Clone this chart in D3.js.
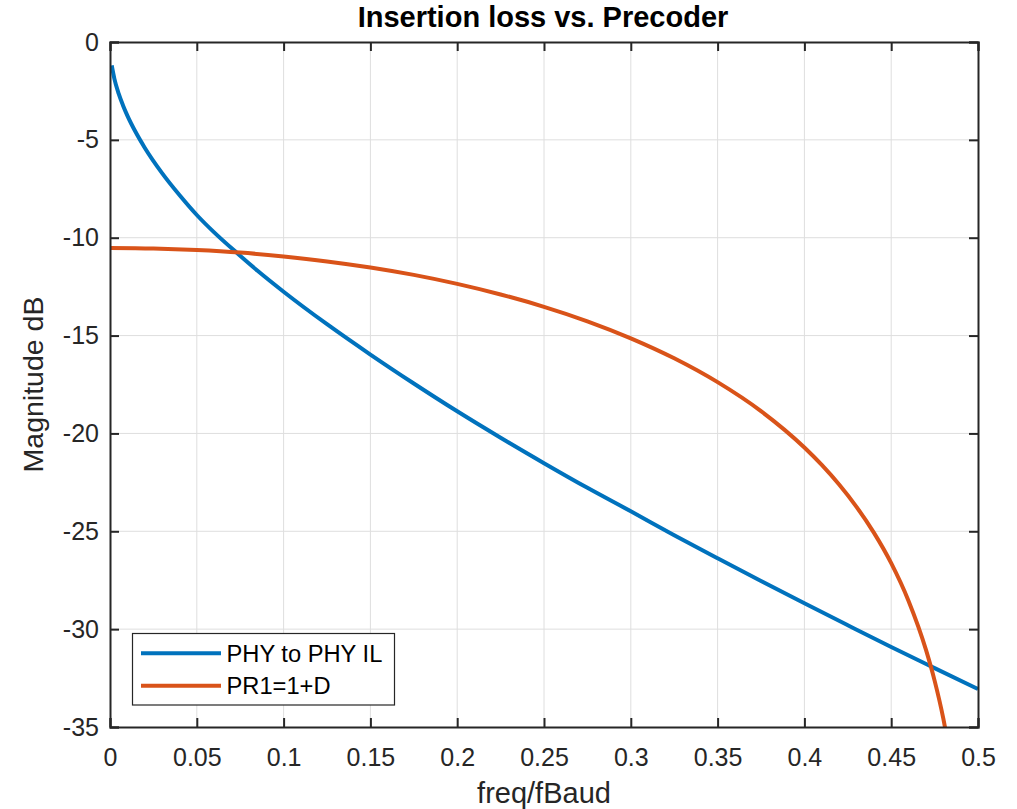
<!DOCTYPE html>
<html>
<head>
<meta charset="utf-8">
<script src="https://cdn.jsdelivr.net/npm/d3@7"></script>
<style>
  html, body { margin: 0; padding: 0; background: #fff; }
  svg { display: block; font-family: "Liberation Sans", Arial, Helvetica, sans-serif; }
</style>
</head>
<body>
<svg id="chart" width="1017" height="809"></svg>
<script>
// ---- data ----
const xTicks = [0, 0.05, 0.1, 0.15, 0.2, 0.25, 0.3, 0.35, 0.4, 0.45, 0.5];
const xTickLabels = ["0", "0.05", "0.1", "0.15", "0.2", "0.25", "0.3", "0.35", "0.4", "0.45", "0.5"];
const yTicks = [0, -5, -10, -15, -20, -25, -30, -35];
const yTickLabels = ["0", "-5", "-10", "-15", "-20", "-25", "-30", "-35"];

const seriesNames = ["PHY to PHY IL", "PR1=1+D"];
const seriesColors = ["#0072BD", "#D95319"];

// PHY to PHY IL
const ilFreq = [0.001, 0.0025, 0.005, 0.0075, 0.01, 0.015, 0.02, 0.03, 0.04, 0.05, 0.06, 0.073, 0.085, 0.1,
  0.125, 0.15, 0.175, 0.2, 0.225, 0.25, 0.275, 0.3, 0.325, 0.35, 0.375, 0.4, 0.425, 0.45, 0.475, 0.5];
const ilDb = [-1.2, -1.87, -2.64, -3.24, -3.76, -4.64, -5.4, -6.7, -7.82, -8.84, -9.73, -10.77, -11.69, -12.76,
  -14.42, -15.97, -17.45, -18.87, -20.22, -21.52, -22.78, -23.98, -25.2, -26.38, -27.54, -28.68, -29.8, -30.91, -31.99, -33.06];

// PR1=1+D
const prFreq = [0, 0.025, 0.05, 0.075, 0.1, 0.125, 0.15, 0.175, 0.2, 0.225, 0.25, 0.275, 0.3, 0.325, 0.35, 0.375,
  0.4, 0.41, 0.42, 0.43, 0.44, 0.45, 0.46, 0.47, 0.475, 0.48, 0.485];
const prDb = [-10.52, -10.55, -10.63, -10.76, -10.96, -11.21, -11.52, -11.9, -12.36, -12.9, -13.53, -14.27, -15.14,
  -16.16, -17.38, -18.86, -20.72, -21.61, -22.61, -23.75, -25.07, -26.63, -28.56, -31.05, -32.63, -34.56, -37.06];

const titleText = "Insertion loss vs. Precoder";
const xLabelText = "freq/fBaud";
const yLabelText = "Magnitude dB";

// ---- layout ----
const svg = d3.select("#chart");
const L = 110, T = 42, R = 978, B = 727;
const ink = "#262626";

const x = d3.scaleLinear().domain([0, 0.5]).range([L, R]);
const y = d3.scaleLinear().domain([-35, 0]).range([B, T]);

// grid
const grid = svg.append("g").attr("stroke", "#dedede").attr("stroke-width", 1);
grid.selectAll("line.gx").data(xTicks.slice(1, -1)).join("line")
  .attr("x1", d => x(d)).attr("x2", d => x(d)).attr("y1", T).attr("y2", B);
grid.selectAll("line.gy").data(yTicks.slice(1, -1)).join("line")
  .attr("y1", d => y(d)).attr("y2", d => y(d)).attr("x1", L).attr("x2", R);

// clip
svg.append("defs").append("clipPath").attr("id", "plotclip")
  .append("rect").attr("x", L).attr("y", T).attr("width", R - L).attr("height", B - T);

const line = d3.line().x(d => x(d[0])).y(d => y(d[1])).curve(d3.curveMonotoneX);
const series = [
  d3.zip(ilFreq, ilDb),
  d3.zip(prFreq, prDb)
];
svg.append("g").attr("clip-path", "url(#plotclip)")
  .selectAll("path").data(series).join("path")
  .attr("d", line)
  .attr("fill", "none")
  .attr("stroke", (d, i) => seriesColors[i])
  .attr("stroke-width", 4)
  .attr("stroke-linejoin", "round");

// axes (MATLAB style: ticks inward, box)
const tickLen = 9;
const fmtX = (d, i) => xTickLabels[i];
const fmtY = (d, i) => yTickLabels[i];

const axB = d3.axisBottom(x).tickValues(xTicks).tickFormat(fmtX).tickSize(-tickLen).tickPadding(21);
const axT = d3.axisTop(x).tickValues(xTicks).tickFormat("").tickSize(-tickLen);
const axL = d3.axisLeft(y).tickValues(yTicks).tickFormat(fmtY).tickSize(-tickLen).tickPadding(11);
const axR = d3.axisRight(y).tickValues(yTicks).tickFormat("").tickSize(-tickLen);

function style(g) {
  g.select(".domain").attr("stroke", ink).attr("stroke-width", 2).attr("fill", "none");
  g.selectAll(".tick line").attr("stroke", ink).attr("stroke-width", 2);
  g.selectAll(".tick text").attr("fill", ink).style("font-size", "25px")
    .style("font-family", '"Liberation Sans", Arial, sans-serif');
}
svg.append("g").attr("transform", `translate(0,${B})`).call(axB).call(style);
svg.append("g").attr("transform", `translate(0,${T})`).call(axT).call(style);
svg.append("g").attr("transform", `translate(${L},0)`).call(axL).call(style);
svg.append("g").attr("transform", `translate(${R},0)`).call(axR).call(style);

// title
svg.append("text").attr("x", 543).attr("y", 27).attr("text-anchor", "middle")
  .attr("fill", "#000").style("font-size", "29px").style("font-weight", "bold")
  .text(titleText);

// x label
svg.append("text").attr("x", 544).attr("y", 803).attr("text-anchor", "middle")
  .attr("fill", ink).style("font-size", "29px").text(xLabelText);

// y label
svg.append("text").attr("transform", "translate(42.5,384.5) rotate(-90)").attr("text-anchor", "middle")
  .attr("fill", ink).style("font-size", "28.5px").text(yLabelText);

// legend
const lg = svg.append("g");
lg.append("rect").attr("x", 132.5).attr("y", 633.5).attr("width", 262).attr("height", 71.5)
  .attr("fill", "#fff").attr("stroke", ink).attr("stroke-width", 1.2);
const rowY = [653.3, 685.7];
seriesNames.forEach((name, i) => {
  lg.append("line").attr("x1", 141).attr("x2", 221).attr("y1", rowY[i]).attr("y2", rowY[i])
    .attr("stroke", seriesColors[i]).attr("stroke-width", 4);
  lg.append("text").attr("x", 226.5).attr("y", rowY[i]).attr("dy", "0.36em")
    .attr("fill", "#000").style("font-size", "23.7px").text(name);
});
</script>
</body>
</html>
